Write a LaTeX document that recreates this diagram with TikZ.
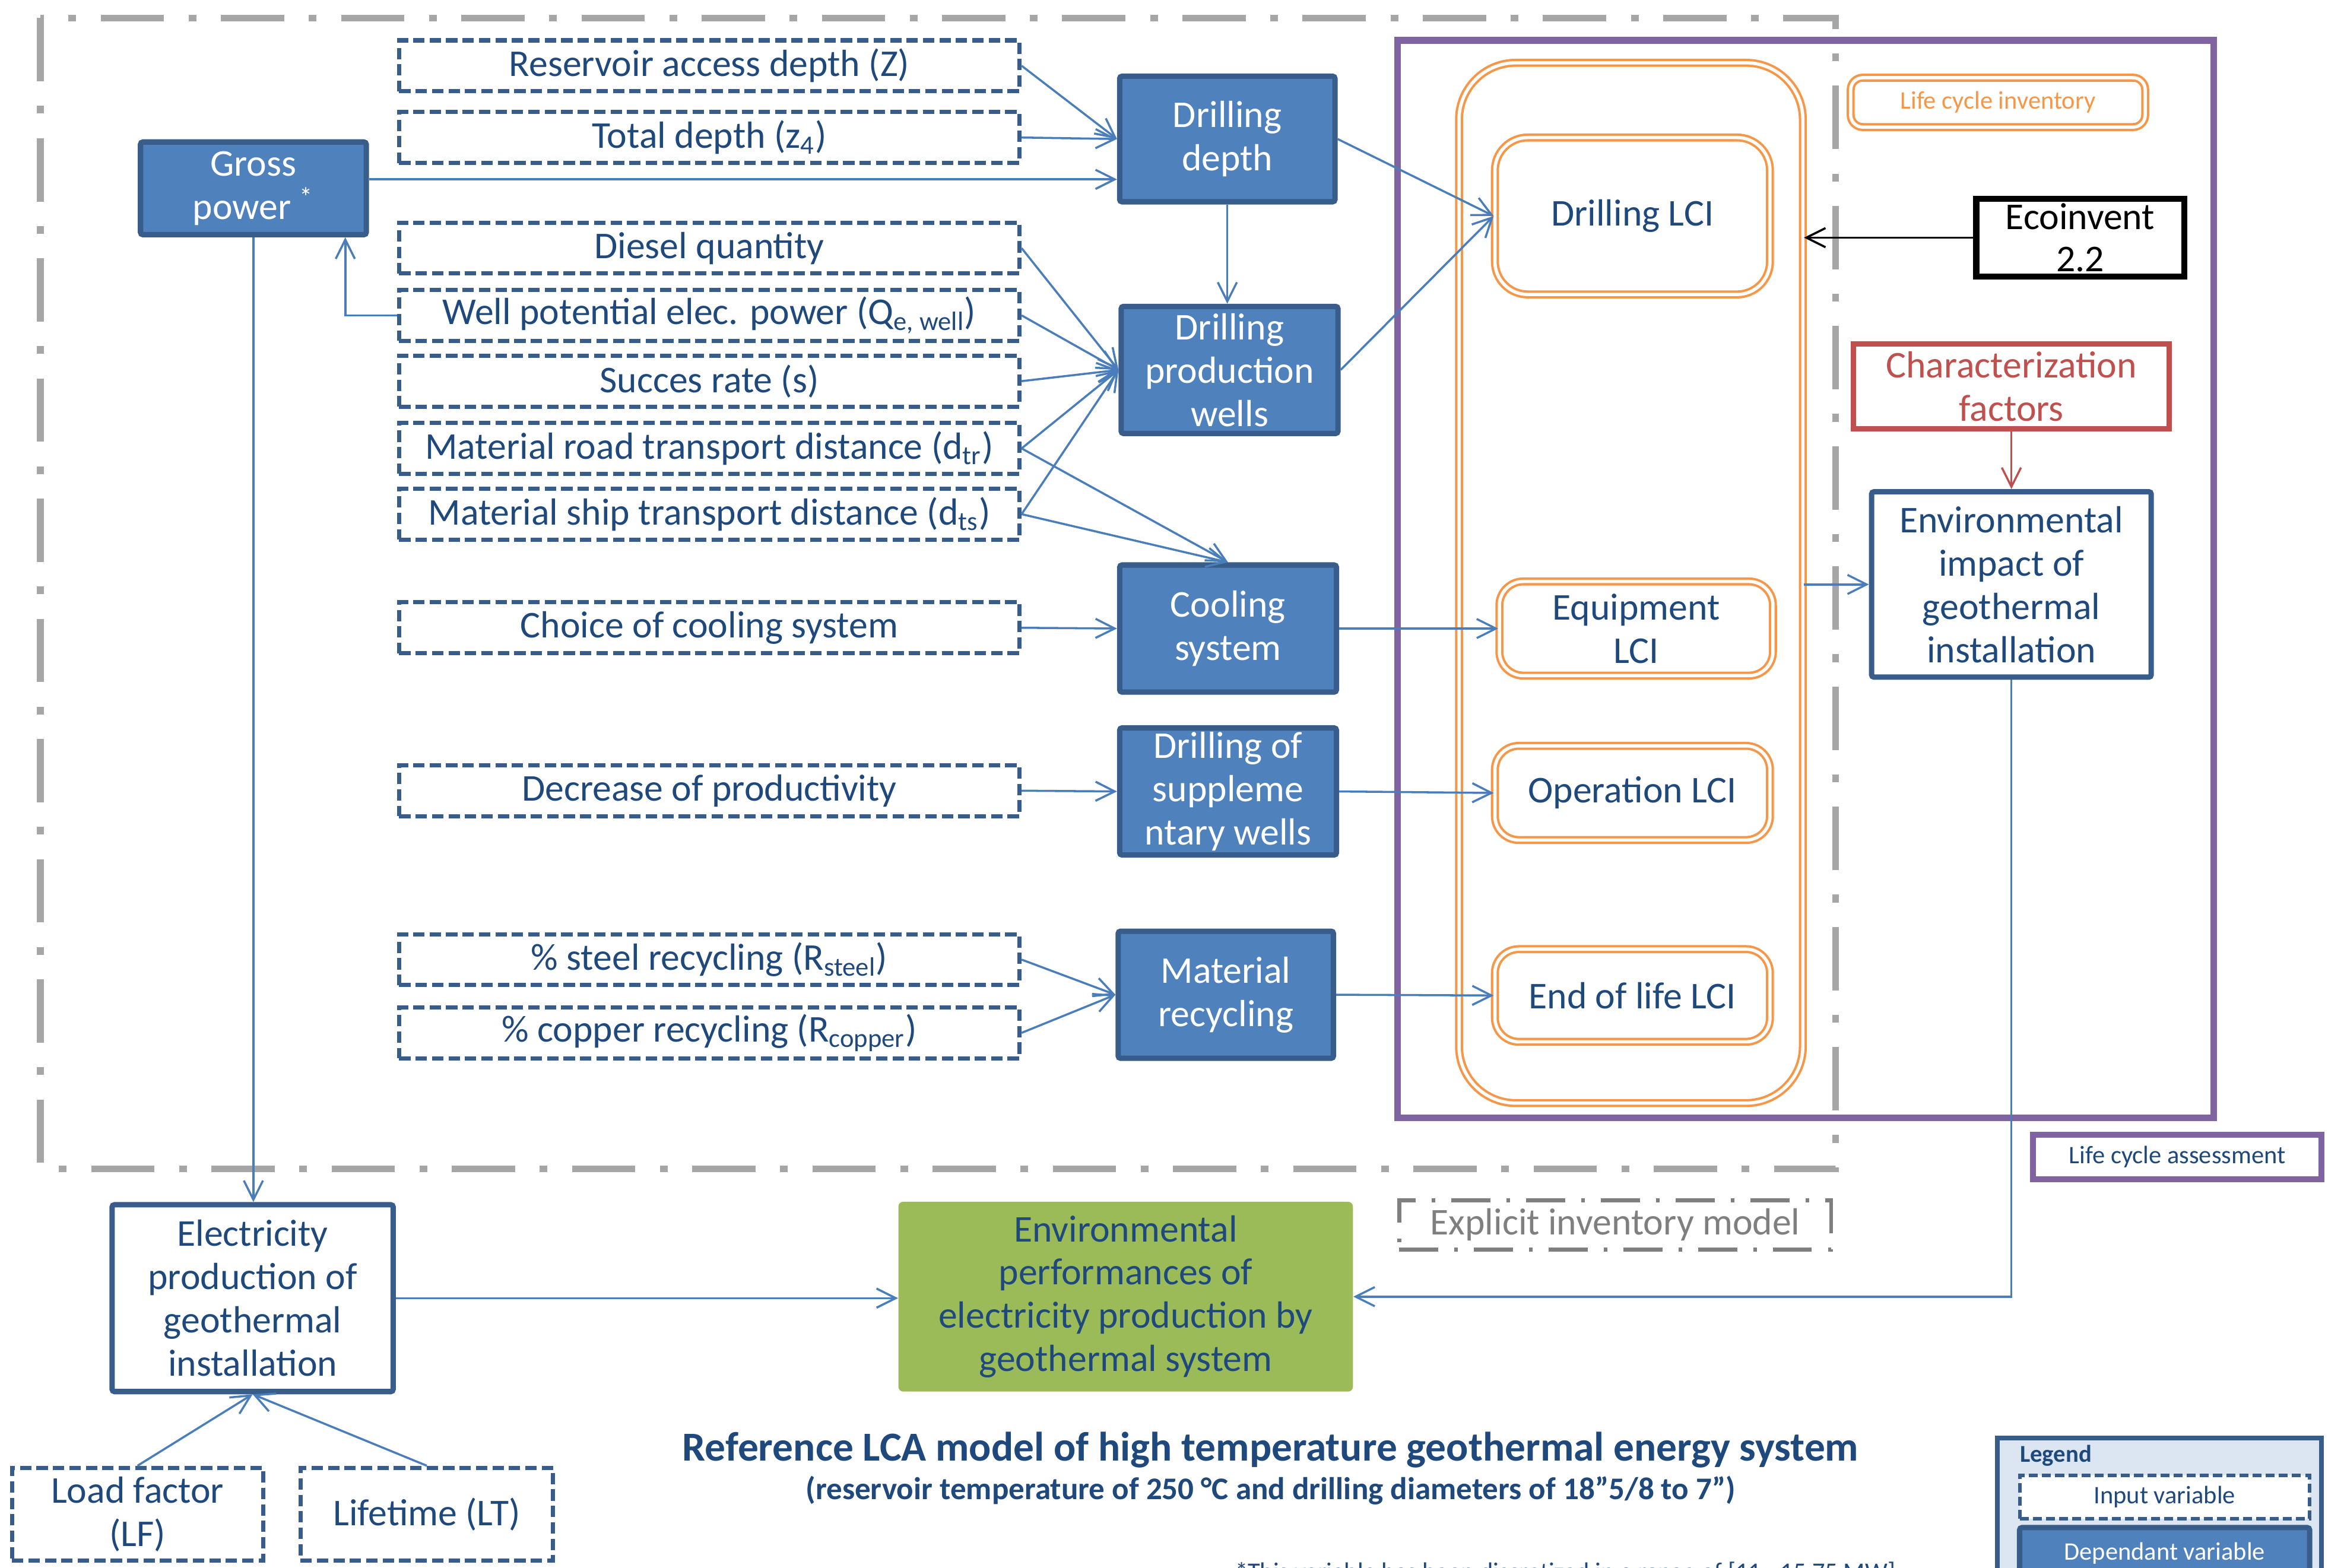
\documentclass[tikz,border=0pt]{standalone}
\usepackage{fontspec}
\setmainfont{Carlito}
\usetikzlibrary{arrows.meta,calc}
\definecolor{txtblue}{HTML}{1F497D}
\definecolor{bordblue}{HTML}{385D8A}
\definecolor{fillblue}{HTML}{4F81BD}
\definecolor{arrblue}{HTML}{4A7EBB}
\definecolor{lcorange}{HTML}{F79646}
\definecolor{lcpurple}{HTML}{8064A2}
\definecolor{lcred}{HTML}{C0504D}
\definecolor{lcgreen}{HTML}{9BBB59}
\definecolor{outgray}{HTML}{A6A6A6}
\definecolor{expgray}{HTML}{7F7F7F}
\definecolor{legfill}{HTML}{DCE6F2}
\newcommand\bx[6]{\node[#1, minimum width={(#4-#2)*0.25mm}, minimum height={(#5-#3)*0.25mm}] (#6) at ({(#2+#4)/2},{(#3+#5)/2})}
\begin{document}
\begin{tikzpicture}[x=0.25mm,y=-0.25mm,
  base/.style={inner sep=0pt, align=center, font=\fontsize{18}{20.6}\selectfont},
  inbox/.style={base, draw=bordblue, line width=0.7mm, dash pattern=on 1.9mm off 0.85mm, fill=white, text=txtblue},
  depbox/.style={base, draw=bordblue, line width=0.9mm, fill=fillblue, text=white, rounded corners=0.4mm},
  outbox/.style={base, draw=bordblue, line width=0.9mm, fill=white, text=txtblue, rounded corners=0.4mm},
  lcibox/.style={base, draw=lcorange, double=white, line width=0.4mm, double distance=0.55mm, text=txtblue, rounded corners=4mm},
  conn/.style={draw=arrblue, line width=0.35mm, -{Straight Barb[length=3.2mm,width=3.2mm]}},
  small/.style={font=\fontsize{12}{14}\selectfont},
]
\useasboundingbox (0,0) rectangle (1568,1049);

% frames
\draw[outgray, line width=1.1mm, dash pattern=on 10.6mm off 4.1mm on 1.3mm off 4.1mm] (27,12) rectangle (1228,782);
\draw[lcpurple, line width=1.1mm] (935,27) rectangle (1481,748);

% big LCI container
\bx{lcibox, rounded corners=9.5mm}{976}{42}{1206}{738}{bigo} {};
\bx{lcibox, rounded corners=5.5mm}{1000}{92}{1184}{197}{dlci} {Drilling LCI};
\bx{lcibox}{1003}{389}{1186}{452}{elci} {Equipment\\LCI};
\bx{lcibox}{1000}{499}{1184}{562}{olci} {Operation LCI};
\bx{lcibox}{1000}{635}{1184}{697}{eollci} {End of life LCI};

% legend-like labels
\bx{lcibox, rounded corners=2mm, text=lcorange, small}{1238}{52}{1435}{85}{lcinv} {Life cycle inventory};
\bx{base, draw=lcpurple, line width=1mm, fill=white, text=txtblue, small}{1360}{759}{1553}{789}{lca} {Life cycle assessment};
\bx{base, draw=expgray, line width=0.65mm, dash pattern=on 6.5mm off 2.7mm on 0.6mm off 2.7mm, text=expgray}{936}{803}{1225}{836}{expl} {Explicit inventory model};

% right side
\bx{base, draw=black, line width=1mm, fill=white, text=black, font=\fontsize{18}{20}\selectfont}{1322}{133}{1461}{185}{eco} {Ecoinvent\\2.2};
\bx{base, draw=lcred, line width=0.9mm, fill=white, text=lcred}{1240}{230}{1451}{287}{charf} {Characterization\\factors};
\bx{outbox}{1252}{329}{1439}{453}{envimp} {Environmental\\impact of\\geothermal\\installation};

% gross power and inputs
\bx{depbox}{94}{95}{245}{157}{gross} {Gross\\power \textsuperscript{*}};
\bx{inbox}{267}{27}{682}{61}{res} {Reservoir access depth (Z)};
\bx{inbox}{267}{75}{682}{109}{tot} {Total depth (z\textsubscript{4})};
\bx{inbox}{267}{149}{682}{183}{dies} {Diesel quantity};
\bx{inbox}{267}{194}{682}{228}{wpot} {Well potential elec. power (Q\textsubscript{e, well})};
\bx{inbox}{267}{238}{682}{272}{succ} {Succes rate (s)};
\bx{inbox}{267}{283}{682}{317}{road} {Material road transport distance (d\textsubscript{tr})};
\bx{inbox}{267}{327}{682}{361}{ship} {Material ship transport distance (d\textsubscript{ts})};
\bx{inbox}{267}{403}{682}{437}{choice} {Choice of cooling system};
\bx{inbox}{267}{512}{682}{546}{decr} {Decrease of productivity};
\bx{inbox}{267}{625}{682}{659}{steel} {\% steel recycling (R\textsubscript{steel})};
\bx{inbox}{267}{674}{682}{708}{copper} {\% copper recycling (R\textsubscript{copper})};

% dependant variables
\bx{depbox}{749}{51}{893}{135}{ddepth} {Drilling\\depth};
\bx{depbox}{750}{205}{895}{290}{dpw} {Drilling\\production\\wells};
\bx{depbox}{749}{378}{894}{463}{cool} {Cooling\\system};
\bx{depbox}{749}{487}{894}{572}{supp} {Drilling of\\suppleme\\ntary wells};
\bx{depbox}{748}{623}{892}{708}{mrec} {Material\\recycling};

% bottom
\bx{outbox}{75}{806}{263}{931}{elec} {Electricity\\production of\\geothermal\\installation};
\bx{base, fill=lcgreen, rounded corners=0.8mm, text=txtblue}{601}{804}{905}{931}{green} {Environmental\\performances of\\electricity production by\\geothermal system};
\bx{inbox}{8}{982}{176}{1044}{lf} {Load factor\\(LF)};
\bx{inbox}{201}{982}{370}{1044}{lt} {Lifetime (LT)};

\node[text=txtblue, font=\bfseries\fontsize{19.6}{23}\selectfont] (title) at (850,970) {Reference LCA model of high temperature geothermal energy system};
\node[text=txtblue, font=\bfseries\fontsize{15}{18}\selectfont] (subtitle) at (850,997) {(reservoir temperature of 250 °C and drilling diameters of 18”5/8 to 7”)};
\node[text=txtblue, anchor=base west, small, inner sep=0pt] (foot) at (826,1057) {*This variable has been discretized in a range of [11 - 15.75 MW]};

% legend
\bx{base, draw=bordblue, line width=0.8mm, fill=legfill}{1336}{962}{1553}{1075}{legend} {};
\node[anchor=west, inner sep=0pt, text=txtblue, font=\bfseries\fontsize{11.5}{13}\selectfont] (legtitle) at (1351,974) {Legend};
\bx{inbox, small, line width=0.6mm, dash pattern=on 1.5mm off 0.7mm}{1351}{987}{1545}{1016}{leginp} {Input variable};
\bx{depbox, small}{1351}{1022}{1545}{1056}{legdep} {Dependant variable};

% connectors
\draw[conn] (res.east) -- (ddepth.west);
\draw[conn] (tot.east) -- (ddepth.west);
\draw[conn] (gross.east |- 0,120) -- (ddepth.west |- 0,120);
\draw[conn] (ddepth.south) -- (ddepth.south |- dpw.north);
\draw[conn] (dies.east) -- (dpw.west);
\draw[conn] (wpot.east) -- (dpw.west);
\draw[conn] (succ.east) -- (dpw.west);
\draw[conn] (road.east) -- (dpw.west);
\draw[conn] (ship.east) -- (dpw.west);
\draw[conn] (road.east) -- (cool.north);
\draw[conn] (ship.east) -- (cool.north);
\draw[conn] (wpot.west) -| (gross.south -| 231,0);
\draw[conn] (ddepth.east) -- (dlci.west);
\draw[conn] (dpw.east) -- (dlci.west);
\draw[conn] (choice.east) -- (cool.west);
\draw[conn] (cool.east) -- (elci.west);
\draw[conn] (decr.east) -- (supp.west);
\draw[conn] (supp.east) -- (olci.west);
\draw[conn] (steel.east) -- (mrec.west);
\draw[conn] (copper.east) -- (mrec.west);
\draw[conn] (mrec.east) -- (eollci.west);
\draw[conn] (envimp.west -| bigo.east) -- (envimp.west);
\draw[conn, draw=black] (eco.west) -- (eco.west -| bigo.east);
\draw[conn, draw=lcred] (charf.south) -- (charf.south |- envimp.north);
\draw[conn] (envimp.south) |- (green.east);
\draw[conn] (gross.south) -- (gross.south |- elec.north);
\draw[conn] (elec.east) -- (elec.east -| green.west);
\draw[conn] (lf.north) -- (elec.south);
\draw[conn] (lt.north) -- (elec.south);
\end{tikzpicture}
\end{document}
